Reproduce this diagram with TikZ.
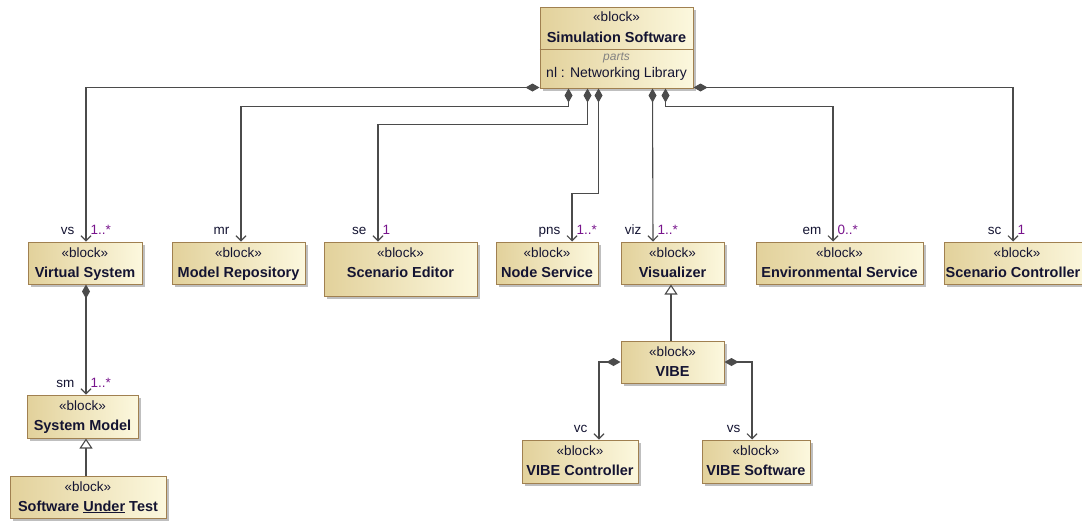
\documentclass[tikz,border=0pt]{standalone}
\usepackage{fontspec}
\setmainfont{Liberation Sans}
\usetikzlibrary{arrows.meta,shadows,calc}

\definecolor{blockL}{RGB}{226,209,155}
\definecolor{blockR}{RGB}{252,248,222}
\definecolor{blockBorder}{RGB}{160,128,80}
\definecolor{lineC}{RGB}{75,75,75}
\definecolor{txtC}{RGB}{20,20,50}
\definecolor{multC}{RGB}{120,20,140}
\definecolor{partsC}{RGB}{130,130,130}

\tikzset{
 block/.style={draw=blockBorder, line width=1pt, left color=blockL, right color=blockR, inner sep=0pt,
   drop shadow={shadow xshift=3pt, shadow yshift=-3pt, fill=black, opacity=0.25}},
 stereo/.style={inner sep=0pt, text=txtC, font=\fontsize{13.5}{16}\selectfont},
 bname/.style={inner sep=0pt, text=txtC, font=\fontsize{14.5}{17}\selectfont\bfseries},
 conn/.style={draw=lineC, line width=1.1pt},
 comp/.style={conn, {Diamond[length=14pt,width=8pt]}-{Straight Barb[length=5pt,width=10pt]}},
 gen/.style={conn, -{Triangle[open,length=10pt,width=13pt,fill=white]}},
 role/.style={anchor=base east, xshift=-11pt, yshift=7pt, inner sep=0pt, text=txtC, font=\fontsize{13.5}{16}\selectfont},
 mult/.style={anchor=base west, xshift=4pt, yshift=7pt, inner sep=0pt, text=multC, font=\fontsize{13.5}{16}\selectfont},
}

\newcommand{\blockbox}[6]{%
 \node[block, minimum width=#4pt, minimum height=#5pt] (#1) at (#2,#3) {};
 \node[stereo, anchor=base] (#1-s) at ([yshift=-16pt]#1.north) {«block»};
 \node[bname, anchor=base] (#1-n) at ([yshift=-35.5pt]#1.north) {#6};
}

\begin{document}
\begin{tikzpicture}[x=1pt,y=-1pt]
\useasboundingbox (0,0) rectangle (1082,520);
\clip (0,0) rectangle (1082,520);

% top block
\node[block, minimum width=153pt, minimum height=81pt] (sim) at (616.5,47.5) {};
\node[stereo, anchor=base] (sim-s) at ([yshift=-15pt]sim.north) {«block»};
\node[bname, anchor=base] (sim-n) at ([yshift=-36pt]sim.north) {Simulation Software};
\draw[draw=blockBorder, line width=1pt] ([yshift=-43pt]sim.north west) -- ([yshift=-43pt]sim.north east);
\node[inner sep=0pt, anchor=base, text=partsC, font=\fontsize{12}{14}\selectfont\itshape] (sim-p) at ([yshift=-54pt]sim.north) {parts};
\node[inner sep=0pt, anchor=base, text=txtC, font=\fontsize{14}{16}\selectfont] (sim-nl) at ([yshift=-70.5pt]sim.north) {nl : Networking Library};

% row of parts
\blockbox{vsb}{85}{263}{114}{42}{Virtual System}
\blockbox{mr}{238.5}{263}{133}{42}{Model Repository}
\blockbox{se}{400.5}{269}{153}{54}{Scenario Editor}
\blockbox{ns}{547}{263}{102}{42}{Node Service}
\blockbox{viz}{672.5}{263}{103}{42}{Visualizer}
\blockbox{em}{839.5}{263}{167}{42}{Environmental Service}
% Scenario Controller runs past the right edge
\node[block, minimum width=146pt, minimum height=42pt] (sc) at (1017,263) {};
\node[stereo, anchor=base] (sc-s) at ([yshift=-16pt]sc.north) {«block»};
\node[bname, anchor=base] (sc-n) at ([xshift=-4pt,yshift=-35.5pt]sc.north) {Scenario Controller};

% lower blocks
\blockbox{sm}{82.5}{416.5}{111}{43}{System Model}
\blockbox{sut}{88}{497}{156}{42}{Software \underline{Under} Test}
\blockbox{vibe}{672.5}{362}{103}{42}{VIBE}
\blockbox{vc}{580}{461.5}{116}{43}{VIBE Controller}
\blockbox{vsw}{756}{461.5}{108}{43}{VIBE Software}

% compositions from Simulation Software
\draw[comp] ([yshift=1pt]sim.south west) -| ([xshift=1pt]vsb.north) node[role]{vs} node[mult]{1..*};
\draw[comp] ([xshift=29pt]sim.south west) -- ++(0,18) -| ([xshift=2.5pt]mr.north) node[role]{mr};
\draw[comp] ([xshift=48pt]sim.south west) -- ++(0,36) -| ([xshift=-22.5pt]se.north) node[role]{se} node[mult]{1};
\draw[comp] ([xshift=59pt]sim.south west) -- ++(0,105) -| ([xshift=25pt]ns.north) node[role]{pns} node[mult]{1..*};
\draw[comp] ([xshift=113pt]sim.south west) -- ([xshift=-19.5pt]viz.north) node[role]{viz} node[mult]{1..*};
\draw[comp] ([xshift=126pt]sim.south west) -- ++(0,18) -| ([xshift=-6.5pt]em.north) node[role]{em} node[mult]{0..*};
\draw[comp] ([yshift=1pt]sim.south east) -| ([xshift=-4pt]sc.north) node[role]{sc} node[mult]{1};

% Virtual System -> System Model
\draw[comp] ([xshift=1pt]vsb.south) -- ([xshift=1pt]vsb.south |- sm.north) node[role]{sm} node[mult]{1..*};
% generalizations
\draw[gen] ([xshift=-2pt]sut.north) -- ([xshift=-2pt]sut.north |- sm.south);
\draw[gen] ([xshift=-1.5pt]vibe.north) -- ([xshift=-1.5pt]viz.south);

% VIBE compositions
\draw[comp] (vibe.west) -| ([xshift=19pt]vc.north) node[role]{vc};
\draw[comp] (vibe.east) -| ([xshift=-4pt]vsw.north) node[role]{vs};
\end{tikzpicture}
\end{document}
